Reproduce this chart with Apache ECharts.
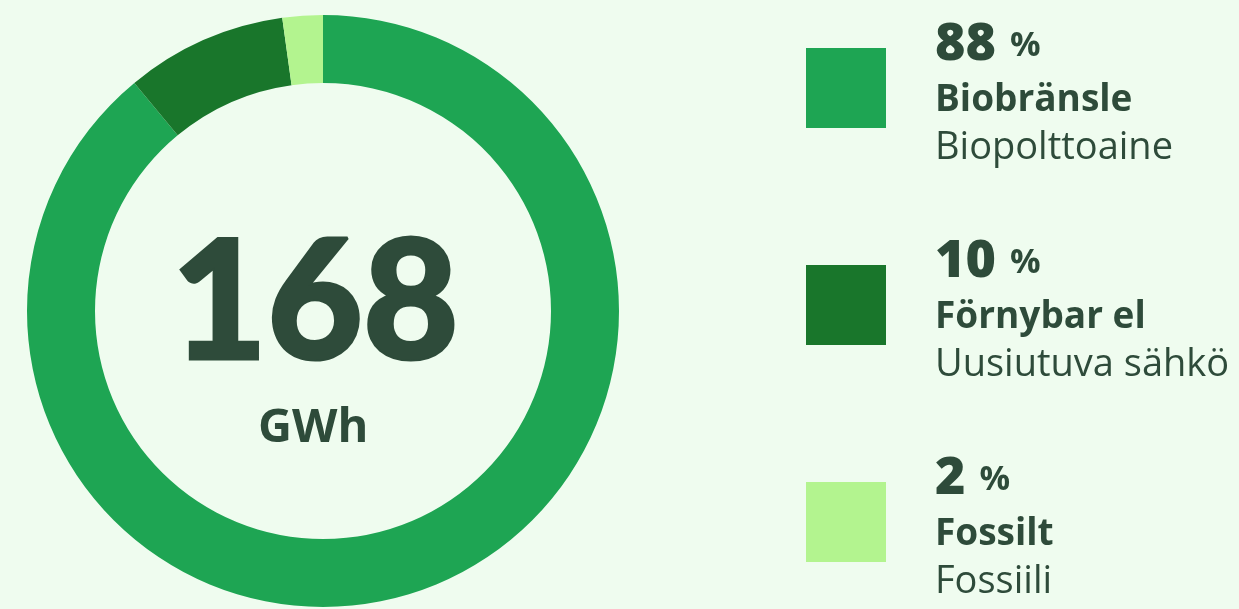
<!DOCTYPE html>
<html lang="sv" style="height: 100%">

<head>
    <meta charset="UTF-8">
    <title>Energi</title>
    <script type="text/javascript" src="https://cdn.jsdelivr.net/npm/echarts@6/dist/echarts.min.js"></script>
</head>

<body style="height: 100%; margin: 0; background: #effcef">
    <div id="container" style="height: 100%"></div>
    <script type="text/javascript">
    var namesSv = ['Biobränsle', 'Förnybar el', 'Fossilt'];
    var namesFi = ['Biopolttoaine', 'Uusiutuva sähkö', 'Fossiili'];
    var percentLabels = [88, 10, 2];
    // share of the ring as drawn
    var ringShares = [89, 8.8, 2.2];
    var colors = ['#1ea553', '#19762b', '#b3f48f'];
    var totalGWh = 168;
    var unit = 'GWh';

    var textColor = '#2e4b3a';
    var font = '"Open Sans", sans-serif';
    var bigFont = 'Lato, "Open Sans", sans-serif';

    var myChart = echarts.init(document.getElementById('container'));

    var option = {
        backgroundColor: '#effcef',
        color: colors,
        legend: {
            orient: 'vertical',
            left: 801,
            top: 14,
            itemWidth: 80,
            itemHeight: 80,
            itemGap: 69,
            icon: 'rect',
            selectedMode: false,
            data: namesSv,
            formatter: function (name) {
                var i = namesSv.indexOf(name);
                return '{num|' + percentLabels[i] + '}{pct|%}\n{sv|' + name + '}\n{fi|' + namesFi[i] + '}';
            },
            textStyle: {
                fontFamily: font,
                color: textColor,
                padding: [10, 0, 0, 44],
                rich: {
                    num: { fontSize: 52, fontWeight: 800, color: textColor, fontFamily: font, lineHeight: 60 },
                    pct: { fontSize: 34, fontWeight: 'bold', color: textColor, fontFamily: font, lineHeight: 48, padding: [0, 0, 12, 14], verticalAlign: 'bottom' },
                    sv: { fontSize: 37, fontWeight: 'bold', color: textColor, fontFamily: font, lineHeight: 50 },
                    fi: { fontSize: 38, fontWeight: 'normal', color: textColor, fontFamily: font, lineHeight: 46 }
                }
            }
        },
        graphic: [{
            type: 'text',
            left: 170,
            top: 222,
            style: {
                text: String(totalGWh),
                fontSize: 165,
                fontWeight: 900,
                fontFamily: bigFont,
                fill: textColor,
                stroke: textColor,
                lineWidth: 3
            }
        }, {
            type: 'text',
            left: 258,
            top: 405,
            style: {
                text: unit,
                fontSize: 47,
                fontWeight: 'bold',
                fontFamily: font,
                fill: textColor
            }
        }],
        series: [{
            type: 'pie',
            center: [323, 311],
            radius: [228, 296],
            startAngle: 90,
            clockwise: true,
            silent: true,
            label: { show: false },
            labelLine: { show: false },
            itemStyle: { borderWidth: 0 },
            data: namesSv.map(function (n, i) {
                return { name: n, value: ringShares[i] };
            })
        }]
    };

    myChart.setOption(option);
    </script>
</body>

</html>
